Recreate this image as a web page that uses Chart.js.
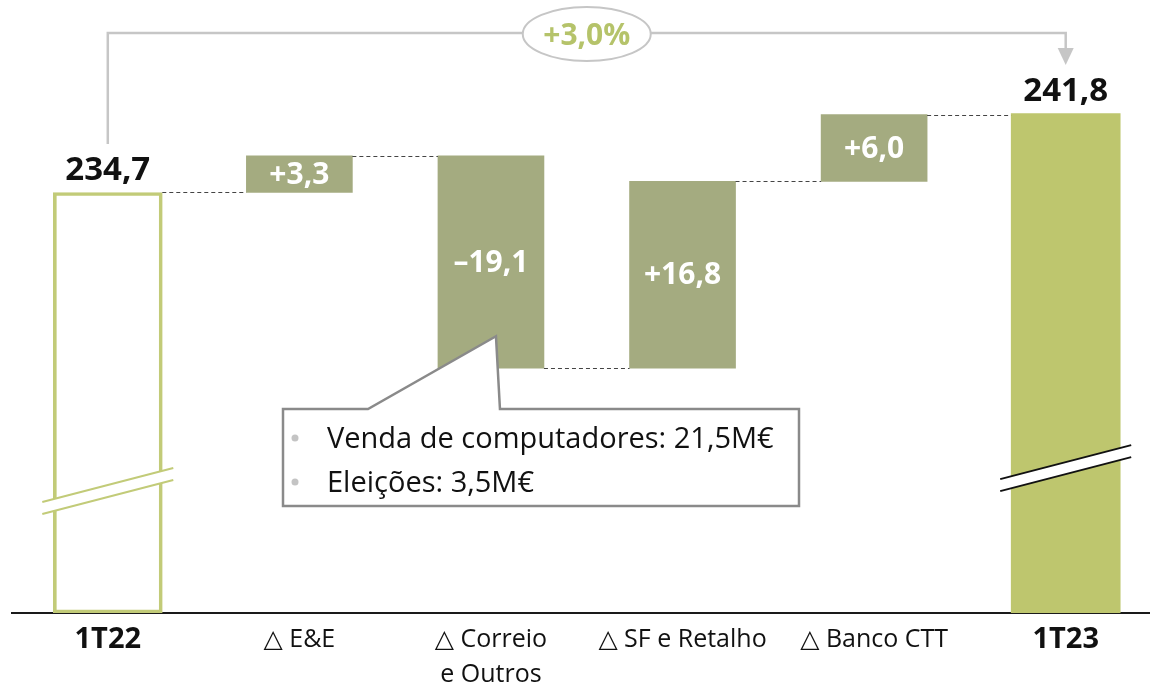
<!DOCTYPE html>
<html>
<head>
<meta charset="utf-8">
<script src="https://cdn.jsdelivr.net/npm/chart.js@4.4.0/dist/chart.umd.min.js"></script>
<style>
  body { margin: 0; background: #fff; }
  #wrap { width: 1150px; height: 688px; }
</style>
</head>
<body>
<div id="wrap"><canvas id="bridge" width="1150" height="688"></canvas></div>
<script>
const categories = ['1T22', '\u25B3 E&E', ['\u25B3 Correio', 'e Outros'], '\u25B3 SF e Retalho', '\u25B3 Banco CTT', '1T23'];
const totals = [234.7, 241.8];          // 1T22, 1T23
const deltas = [3.3, -19.1, 16.8, 6.0]; // E&E, Correio, SF, Banco
const growthLabel = '+3,0%';
const notes = ['Venda de computadores: 21,5M\u20AC', 'Elei\u00E7\u00F5es: 3,5M\u20AC'];

const FONT = "'Open Sans', 'DejaVu Sans', sans-serif";
const Y_MIN = 196.9, Y_MAX = 252.0;
const DELTA_COLOR = '#a4ab80', TOTAL_COLOR = '#bec66e', OUTLINE = '#c2cb78';

// running level after each step
const levels = [totals[0]];
deltas.forEach(d => levels.push(Math.round((levels[levels.length - 1] + d) * 10) / 10));

const fmt = v => Math.abs(v).toFixed(1).replace('.', ',');
const deltaText = d => (d >= 0 ? '+' : '\u2013') + fmt(d);

const totalData = [{ x: 0, y: [Y_MIN, totals[0]] }, { x: 5, y: [Y_MIN, totals[1]] }];
const deltaData = deltas.map((d, i) => ({ x: i + 1, y: [levels[i], levels[i + 1]] }));

function barsInOrder(chart) {
  const t = chart.getDatasetMeta(0).data, d = chart.getDatasetMeta(1).data;
  return [t[0], d[0], d[1], d[2], d[3], t[1]];
}

const bridgePlugin = {
  id: 'bridge',
  afterDatasetsDraw(chart) {
    const ctx = chart.ctx, ys = chart.scales.y;
    const bars = barsInOrder(chart);
    ctx.save();

    // dashed connectors
    ctx.strokeStyle = '#444';
    ctx.lineWidth = 1;
    ctx.setLineDash([4, 3]);
    for (let i = 0; i < 5; i++) {
      const y = Math.round(ys.getPixelForValue(levels[i])) + 0.5;
      ctx.beginPath();
      ctx.moveTo(bars[i].x + bars[i].width / 2, y);
      ctx.lineTo(bars[i + 1].x - bars[i + 1].width / 2, y);
      ctx.stroke();
    }
    ctx.setLineDash([]);

    // total labels
    ctx.fillStyle = '#111';
    ctx.font = 'bold 33px ' + FONT;
    ctx.textAlign = 'center';
    ctx.textBaseline = 'alphabetic';
    [bars[0], bars[5]].forEach((b, i) => ctx.fillText(fmt(totals[i]), b.x, Math.min(b.y, b.base) - 12));

    // delta labels
    ctx.fillStyle = '#fff';
    ctx.font = 'bold 30px ' + FONT;
    ctx.textBaseline = 'middle';
    deltas.forEach((d, i) => {
      const b = bars[i + 1];
      ctx.fillText(deltaText(d), b.x, (b.y + b.base) / 2 + 1);
    });

    // axis break marks
    [[bars[0], OUTLINE], [bars[5], '#111']].forEach(([b, col]) => {
      const top = Math.min(b.y, b.base), bot = Math.max(b.y, b.base);
      const cy = bot - 0.29 * (bot - top);
      const L = b.x - b.width / 2 - 11, R = b.x + b.width / 2 + 11;
      ctx.fillStyle = '#fff';
      ctx.beginPath();
      ctx.moveTo(L, cy + 11); ctx.lineTo(R, cy - 23); ctx.lineTo(R, cy - 11); ctx.lineTo(L, cy + 23);
      ctx.closePath();
      ctx.fill();
      ctx.strokeStyle = col;
      ctx.lineWidth = 2;
      ctx.beginPath();
      ctx.moveTo(L, cy + 11); ctx.lineTo(R, cy - 23);
      ctx.moveTo(L, cy + 23); ctx.lineTo(R, cy - 11);
      ctx.stroke();
    });

    // growth bracket
    const x0 = bars[0].x, x5 = bars[5].x;
    ctx.strokeStyle = '#c6c6c6';
    ctx.lineWidth = 2.5;
    ctx.beginPath();
    ctx.moveTo(x0, 144); ctx.lineTo(x0, 33); ctx.lineTo(x5, 33); ctx.lineTo(x5, 50);
    ctx.stroke();
    ctx.fillStyle = '#c6c6c6';
    ctx.beginPath();
    ctx.moveTo(x5 - 8, 48); ctx.lineTo(x5 + 8, 48); ctx.lineTo(x5, 65);
    ctx.closePath();
    ctx.fill();
    const cx = (x0 + x5) / 2;
    ctx.fillStyle = '#fff';
    ctx.lineWidth = 2;
    ctx.beginPath();
    ctx.ellipse(cx, 34, 64, 27, 0, 0, Math.PI * 2);
    ctx.fill();
    ctx.stroke();
    ctx.fillStyle = '#b5c36a';
    ctx.font = 'bold 30px ' + FONT;
    ctx.textBaseline = 'middle';
    ctx.fillText(growthLabel, cx, 36);

    // callout on Correio bar
    const cb = bars[2];
    const tipX = cb.x + 5, tipY = Math.max(cb.y, cb.base) - 32;
    ctx.fillStyle = '#fff';
    ctx.strokeStyle = '#8a8a8a';
    ctx.lineWidth = 2.5;
    ctx.beginPath();
    ctx.moveTo(283, 409); ctx.lineTo(368, 409); ctx.lineTo(tipX, tipY); ctx.lineTo(tipX + 4, 409);
    ctx.lineTo(799, 409); ctx.lineTo(799, 506); ctx.lineTo(283, 506);
    ctx.closePath();
    ctx.fill();
    ctx.stroke();
    ctx.font = '29px ' + FONT;
    ctx.textAlign = 'left';
    ctx.textBaseline = 'alphabetic';
    notes.forEach((t, i) => {
      const by = 448 + i * 44;
      ctx.fillStyle = '#c4c4c4';
      ctx.beginPath();
      ctx.arc(295, by - 10, 3.5, 0, Math.PI * 2);
      ctx.fill();
      ctx.fillStyle = '#111';
      ctx.fillText(t, 327, by);
    });
    ctx.restore();
  }
};

new Chart(document.getElementById('bridge'), {
  type: 'bar',
  data: {
    datasets: [{
      data: totalData,
      backgroundColor: ['rgba(0,0,0,0)', TOTAL_COLOR],
      borderColor: [OUTLINE, TOTAL_COLOR],
      borderWidth: [3, 0],
      borderSkipped: false,
      barThickness: 109,
      grouped: false
    }, {
      data: deltaData,
      backgroundColor: DELTA_COLOR,
      borderWidth: 0,
      barThickness: 106,
      grouped: false
    }]
  },
  options: {
    responsive: false,
    animation: false,
    layout: { padding: { left: 12, top: 0, right: 0, bottom: 0 } },
    plugins: { legend: { display: false }, tooltip: { enabled: false } },
    scales: {
      x: {
        type: 'linear',
        offset: false,
        min: -0.5,
        max: 5.44,
        z: 1,
        grid: { display: false, drawTicks: false },
        border: { display: true, color: '#1a1a1a', width: 2 },
        afterBuildTicks: s => { s.ticks = categories.map((_, i) => ({ value: i })); },
        afterFit: s => { s.height = 75; },
        ticks: {
          autoSkip: false,
          maxRotation: 0,
          padding: 9,
          color: '#111',
          callback: v => categories[v],
          font: c => {
            const bold = c.index === 0 || c.index === 5;
            return { family: FONT, size: bold ? 29 : 25, lineHeight: bold ? 1.2 : 1.4, weight: bold ? 'bold' : 'normal' };
          }
        }
      },
      y: { display: false, min: Y_MIN, max: Y_MAX }
    }
  },
  plugins: [bridgePlugin]
});
</script>
</body>
</html>
